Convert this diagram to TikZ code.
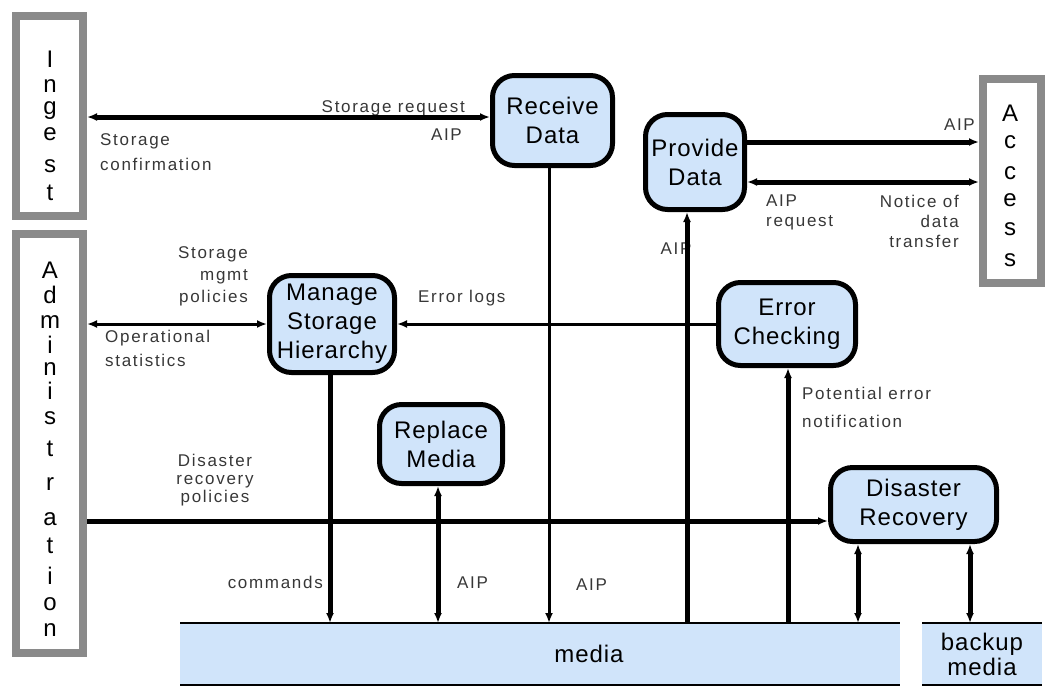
\documentclass[tikz,border=0pt]{standalone}
\usepackage{fontspec}
\setmainfont{Liberation Sans}
\newfontfamily\labfont[LetterSpace=10]{Liberation Sans}
\newfontfamily\boxfont[LetterSpace=4]{Liberation Sans}
\usetikzlibrary{arrows.meta}
\definecolor{boxblue}{RGB}{208,228,250}
\definecolor{sidegray}{RGB}{138,138,138}
\definecolor{labgray}{RGB}{55,55,55}
\begin{document}
\begin{tikzpicture}[x=1pt,y=-1pt,
  >={Latex[length=10pt,width=8pt]},
  proc/.style={draw=black, line width=5pt, fill=boxblue, rounded corners=22pt, inner sep=0pt, outer sep=auto, align=center, font=\boxfont\fontsize{24}{29}\selectfont},
  side/.style={draw=sidegray, line width=8pt, fill=white, inner sep=0pt, outer sep=auto},
  sidelet/.style={inner sep=0pt, anchor=base, font=\fontsize{24}{24}\selectfont},
  store/.style={fill=boxblue, inner sep=0pt, outer sep=0pt, font=\boxfont\fontsize{24}{25}\selectfont},
  lab/.style={inner sep=0pt, text=labgray, font=\labfont\fontsize{17}{20}\selectfont},
  thickln/.style={line width=5pt},
  thinln/.style={line width=3pt},
  edgeln/.style={line width=2pt}
]
\useasboundingbox (0,0) rectangle (1056,686);

% side boxes
\node[side, minimum width=67pt, minimum height=200pt] (ing) at (49.5,116) {};
\foreach \l/\yy [count=\i] in {I/67,n/92,g/114,e/140,s/172,t/200}
  \node[sidelet] (ing\i) at (50,\yy) {\l};
\node[side, minimum width=67pt, minimum height=419pt] (adm) at (49.5,443.5) {};
\foreach \l/\yy [count=\i] in {A/278,d/303,m/328,i/353,n/375,i/399,s/424,t/456,r/490,a/525,t/553,i/584,o/610,n/636}
  \node[sidelet] (adm\i) at (50,\yy) {\l};
\node[side, minimum width=58pt, minimum height=204pt] (acc) at (1012,181) {};
\foreach \l/\yy [count=\i] in {A/121,c/148,c/179,e/206,s/235,s/266}
  \node[sidelet] (acc\i) at (1010,\yy) {\l};

% process boxes
\node[proc, minimum width=120pt, minimum height=90pt] (rec) at (552.5,120.5) {Receive\\Data};
\node[proc, minimum width=99pt, minimum height=95pt] (prov) at (695,162) {Provide\\Data};
\node[proc, minimum width=125pt, minimum height=97pt] (mgr) at (332,324) {Manage\\Storage\\Hierarchy};
\node[proc, minimum width=137pt, minimum height=83pt] (err) at (787,324) {Error\\Checking};
\node[proc, minimum width=123pt, minimum height=79pt] (rep) at (441,444) {Replace\\Media};
\node[proc, minimum width=166pt, minimum height=74pt] (dis) at (913.5,504.5) {Disaster\\Recovery};

% storage
\node[store, minimum width=720pt, minimum height=62pt] (media) at (540,654) {\hspace*{98pt}media};
\node[store, align=center, minimum width=120pt, minimum height=62pt] (bak) at (982,654) {backup\\media};
\draw[edgeln] (media.north west) -- (media.north east);
\draw[edgeln] (media.south west) -- (media.south east);
\draw[edgeln] (bak.north west) -- (bak.north east);
\draw[edgeln] (bak.south west) -- (bak.south east);

% labels
\node[lab, anchor=base east] (lsr) at (465,112) {Storage request};
\node[lab, anchor=base east] (laip1) at (462,140) {AIP};
\node[lab, anchor=north west, align=left] (lsc) at (100,133) {Storage\\[5pt]confirmation};
\node[lab, anchor=base east] (laip2) at (975,130) {AIP};
\node[lab, anchor=north west, align=left] (lreq) at (766,195) {AIP\\request};
\node[lab, anchor=north east, align=right] (lnot) at (959,195) {Notice of\\data\\transfer};
\node[lab] (laip3) at (676,249) {AIP};
\node[lab, anchor=north east, align=right] (lsmp) at (248,246) {Storage\\[2pt]mgmt\\[2pt]policies};
\node[lab, anchor=north west, align=left] (lops) at (105,330) {Operational\\[4pt]statistics};
\node[lab, anchor=base west] (lerr) at (418,302) {Error logs};
\node[lab, anchor=north west, align=left] (lpot) at (802,387) {Potential error\\[8pt]notification};
\node[lab, anchor=north, align=center] (ldrp) at (215,454) {Disaster\\[-2pt]recovery\\[-2pt]policies};
\node[lab, anchor=base east] (lcmd) at (323,588) {commands};
\node[lab, anchor=base west] (laip4) at (457,588) {AIP};
\node[lab, anchor=base west] (laip5) at (576,590) {AIP};

% helper coordinates
\coordinate (xrec) at (549,0);
\coordinate (xprov) at (687,0);
\coordinate (xmgr) at (330,0);
\coordinate (xrep) at (438,0);
\coordinate (xerr) at (788,0);
\coordinate (xdisa) at (858,0);
\coordinate (xdisb) at (970,0);
\coordinate (ying) at (0,117);
\coordinate (yacca) at (0,142);
\coordinate (yaccb) at (0,182);
\coordinate (ydis) at (0,521);

% connectors
\draw[thickln,<->] (ing.east |- ying) -- (rec.west |- ying);
\draw[thickln,->] (prov.east |- yacca) -- (acc.west |- yacca);
\draw[thickln,<->] (acc.west |- yaccb) -- (prov.east |- yaccb);
\draw[thinln,<->] (adm.east |- mgr.west) -- (mgr.west);
\draw[thinln,->] (err.west) -- (mgr.east);
\draw[thickln,->] (adm.east |- ydis) -- (dis.west |- ydis);
\draw[thinln,->] (xrec |- rec.south) -- (xrec |- media.north);
\draw[thickln,<-] (xprov |- prov.south) -- (xprov |- media.north);
\draw[thickln,->] (xmgr |- mgr.south) -- (xmgr |- media.north);
\draw[thickln,<->] (xrep |- rep.south) -- (xrep |- media.north);
\draw[thickln,<-] (xerr |- err.south) -- (xerr |- media.north);
\draw[thickln,<->] (xdisa |- dis.south) -- (xdisa |- media.north);
\draw[thickln,<->] (xdisb |- dis.south) -- (xdisb |- bak.north);
\end{tikzpicture}
\end{document}
